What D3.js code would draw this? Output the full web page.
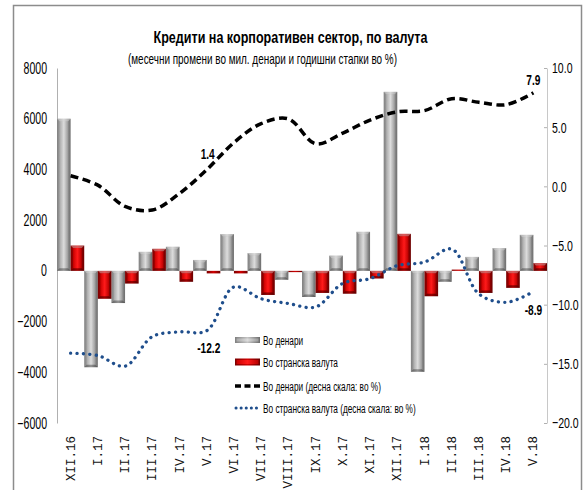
<!DOCTYPE html>
<html><head><meta charset="utf-8">
<script src="https://cdn.jsdelivr.net/npm/d3@7"></script>
<style>
html,body{margin:0;padding:0;background:#fff;}
svg{display:block;}
.nar{font-family:"Liberation Sans",Arial,sans-serif;}
</style></head>
<body><svg id="c" width="584" height="490"></svg>
<script>
const categories = ["XII.16","I.17","II.17","III.17","IV.17","V.17","VI.17","VII.17","VIII.17","IX.17","X.17","XI.17","XII.17","I.18","II.18","III.18","IV.18","V.18"];
const denariFlow  = [6000,-3800,-1270,750,950,430,1450,700,-350,-1030,600,1540,7060,-3980,-430,550,900,1420];
const foreignFlow = [1000,-1100,-500,870,-430,-100,-100,-950,-50,-870,-900,-300,1460,-1000,50,-870,-670,310];
const denariGrowth  = [0.9,0.1,-1.7,-2.0,-0.6,1.4,3.7,5.3,5.7,3.6,4.5,5.6,6.3,6.4,7.4,7.1,6.9,7.9];
const foreignGrowth = [-14.1,-14.3,-15.2,-12.7,-12.3,-12.2,-8.5,-9.5,-9.9,-10.2,-8.2,-7.8,-6.7,-6.4,-5.3,-9.1,-9.8,-8.9];
const leftTicks  = [8000,6000,4000,2000,0,-2000,-4000,-6000];
const rightTicks = [10,5,0,-5,-10,-15,-20];
const title = "Кредити на корпоративен сектор, по валута";
const subtitle = "(месечни промени во мил. денари и годишни стапки во %)";
const legendLabels = ["Во денари","Во странска валута","Во денари  (десна скала: во %)","Во странска валута  (десна скала: во %)"];

const svg = d3.select("#c");
const defs = svg.append("defs");
function grad(id, stops){
  const g = defs.append("linearGradient").attr("id",id).attr("x1","0").attr("x2","1").attr("y1","0").attr("y2","0");
  stops.forEach(s=>g.append("stop").attr("offset",s[0]).attr("stop-color",s[1]));
}
grad("gOut",[[0,"#808080"],[0.5,"#c4c4c4"],[1,"#6c6c6c"]]);
grad("gIn",[[0,"#a8a8a8"],[0.5,"#dcdcdc"],[1,"#9a9a9a"]]);
grad("rOut",[[0,"#7a0000"],[0.5,"#d00000"],[1,"#6a0000"]]);
grad("rIn",[[0,"#c80000"],[0.5,"#ff1a1a"],[1,"#b80000"]]);

function narrow(sel, f){
  sel.each(function(){
    const w = this.getComputedTextLength();
    d3.select(this).attr("textLength", w*f).attr("lengthAdjust","spacingAndGlyphs");
  });
}

svg.append("rect").attr("x",13.5).attr("y",5.5).attr("width",568).attr("height",495)
  .attr("fill","none").attr("stroke","#8c8c8c").attr("stroke-width",1.5);

const x = d3.scaleBand().domain(categories).range([57,547]).padding(0);
const sub = d3.scaleBand().domain(["d","f"]).range([0,x.bandwidth()]).padding(0);
const yL = d3.scaleLinear().domain([-6000,8000]).range([423,68]);
const yR = d3.scaleLinear().domain([-20,10]).range([423,68]);

svg.append("text").attr("class","nar").attr("x",290.5).attr("y",42.5).attr("text-anchor","middle")
  .attr("font-size",16.5).attr("font-weight","bold").attr("textLength",274).attr("lengthAdjust","spacingAndGlyphs").text(title);
svg.append("text").attr("class","nar").attr("x",262.5).attr("y",64).attr("text-anchor","middle")
  .attr("font-size",15).attr("textLength",269).attr("lengthAdjust","spacingAndGlyphs").text(subtitle);

// axes
const axL = svg.append("g").attr("transform","translate(57,0)")
  .call(d3.axisLeft(yL).tickValues(leftTicks).tickSize(0).tickPadding(10).tickFormat(d3.format("d")));
axL.select(".domain").attr("stroke","#b0b0b0");
axL.selectAll("text").attr("class","nar").attr("font-size",16).attr("fill","#000").call(narrow,0.66);
const axR = svg.append("g").attr("transform","translate(547,0)")
  .call(d3.axisRight(yR).tickValues(rightTicks).tickSizeInner(-3).tickSizeOuter(0).tickPadding(5).tickFormat(d3.format(".1f")));
axR.select(".domain").attr("stroke","#c8c8c8");
axR.selectAll(".tick line").attr("stroke","#b0b0b0");
axR.selectAll("text").attr("class","nar").attr("font-size",15.5).attr("fill","#000")
  .attr("x",0).attr("transform","translate(5,0) scale(0.68,1)");

// bars
function drawBars(vals, key, outer, inner){
  const g = svg.append("g");
  vals.forEach((v,i)=>{
    const bx = x(categories[i]) + sub(key);
    const bw = sub.bandwidth();
    const y0 = yL(Math.max(0,v)), y1 = yL(Math.min(0,v));
    const h = Math.max(1.2, y1-y0);
    g.append("rect").attr("x",bx).attr("y",y0).attr("width",bw).attr("height",h).attr("fill",`url(#${outer})`);
    if (h > 6) {
      const ins = 2.5;
      g.append("rect").attr("x",bx+ins).attr("y",y0+ins).attr("width",bw-2*ins).attr("height",h-2*ins)
        .attr("fill",`url(#${inner})`);
      g.append("path").attr("d",`M${bx},${y0}L${bx+bw},${y0}L${bx+bw-ins},${y0+ins}L${bx+ins},${y0+ins}Z`)
        .attr("fill","#fff").attr("opacity",0.35);
      g.append("path").attr("d",`M${bx},${y1}L${bx+bw},${y1}L${bx+bw-ins},${y1-ins}L${bx+ins},${y1-ins}Z`)
        .attr("fill","#000").attr("opacity",0.25);
    }
  });
}
drawBars(denariFlow,"d","gOut","gIn");
drawBars(foreignFlow,"f","rOut","rIn");

// lines
const cx = i => x(categories[i]) + x.bandwidth()/2;
const line = d3.line().x((d,i)=>cx(i)).y(d=>yR(d)).curve(d3.curveCatmullRom.alpha(0.5));
svg.append("path").attr("d",line(denariGrowth)).attr("fill","none").attr("stroke","#000")
  .attr("stroke-width",3.5).attr("stroke-dasharray","8,4.5");
svg.append("path").attr("d",line(foreignGrowth)).attr("fill","none").attr("stroke","#1f4e8c")
  .attr("stroke-width",3.3).attr("stroke-linecap","round").attr("stroke-dasharray","0.1,6.3");

// data labels
function lab(i, arr, dx, dy){
  svg.append("text").attr("class","nar").attr("x",cx(i)+dx).attr("y",yR(arr[i])+dy)
    .attr("text-anchor","middle").attr("font-size",14.5).attr("font-weight","bold").text(arr[i].toFixed(1))
    .call(narrow,0.7);
}
lab(5, denariGrowth, 1, -11);
lab(17, denariGrowth, 0, -8);
lab(5, foreignGrowth, 2, 22);
lab(17, foreignGrowth, 0, 23);

// x labels
categories.forEach((c,i)=>{
  svg.append("text").attr("transform",`translate(${cx(i)+4},436) rotate(-90)`)
    .attr("text-anchor","end").attr("font-family","'Liberation Mono','DejaVu Sans Mono',monospace")
    .attr("font-size",12.5).attr("fill","#111").text(c);
});

// legend
const lg = svg.append("g");
const ly = [340,362,386,408];
lg.append("rect").attr("x",235).attr("y",ly[0]-3).attr("width",25).attr("height",6).attr("fill","url(#gOut)");
lg.append("rect").attr("x",236.5).attr("y",ly[0]-1.5).attr("width",22).attr("height",3).attr("fill","url(#gIn)");
lg.append("rect").attr("x",235).attr("y",ly[1]-3.5).attr("width",25).attr("height",7).attr("fill","url(#rOut)");
lg.append("rect").attr("x",236.5).attr("y",ly[1]-2).attr("width",22).attr("height",4).attr("fill","url(#rIn)");
lg.append("line").attr("x1",235).attr("x2",260).attr("y1",ly[2]).attr("y2",ly[2]).attr("stroke","#000")
  .attr("stroke-width",3.5).attr("stroke-dasharray","6,3.5");
lg.append("line").attr("x1",236).attr("x2",260).attr("y1",ly[3]).attr("y2",ly[3]).attr("stroke","#1f4e8c")
  .attr("stroke-width",3).attr("stroke-linecap","round").attr("stroke-dasharray","0.1,5");
legendLabels.forEach((t,i)=>{
  lg.append("text").attr("class","nar").attr("x",263).attr("y",ly[i]+4.5).attr("font-size",12.5).text(t)
    .call(narrow,0.66);
});
</script></body></html>
